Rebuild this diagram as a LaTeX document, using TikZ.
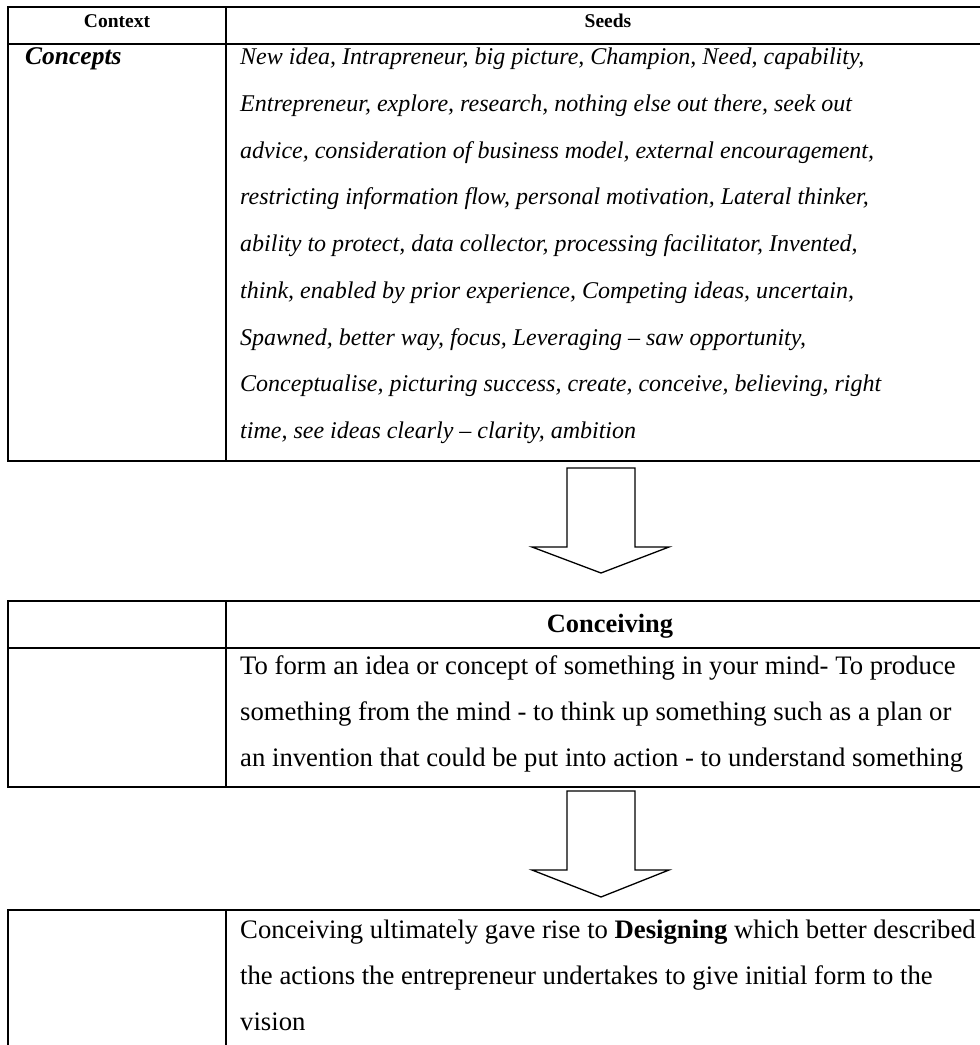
\documentclass[tikz,border=0pt]{standalone}
\usepackage{fontspec}
\setmainfont{Liberation Serif}
\begin{document}
\begin{tikzpicture}[x=1pt,y=-1pt,
  rule/.style={line width=1.8pt},
  blockarrow/.style={line width=1.3pt, line join=miter, fill=white},
  hdr/.style={font=\fontsize{19.5}{20}\selectfont\bfseries, anchor=base, inner sep=0pt},
  ctx/.style={font=\fontsize{25.5}{26}\selectfont\bfseries\itshape, anchor=base west, inner sep=0pt},
  seed/.style={font=\fontsize{24}{25}\selectfont\itshape, anchor=base west, inner sep=0pt},
  title/.style={font=\fontsize{26.4}{27}\selectfont\bfseries, anchor=base, inner sep=0pt},
  body/.style={font=\fontsize{26.7}{27}\selectfont, anchor=base west, inner sep=0pt},
]
\useasboundingbox (0,0) rectangle (980,1045);
\clip (0,0) rectangle (980,1045);

% Table of seeds
\draw[rule] (990,7) -| (8,461) -- (990,461);
\draw[rule] (8,44) -- (990,44);
\draw[rule] (226,7) -- (226,461);
\node[hdr] (hctx) at (117,27) {Context};
\node[hdr] (hseeds) at (608,27) {Seeds};
\node[ctx] (concepts) at (25,64.5) {Concepts};
\node[seed] (s1) at (240,64.5) {New idea, Intrapreneur, big picture, Champion, Need, capability,};
\node[seed] (s2) at (240,111.2) {Entrepreneur, explore, research, nothing else out there, seek out};
\node[seed] (s3) at (240,158) {advice, consideration of business model, external encouragement,};
\node[seed] (s4) at (240,204.8) {restricting information flow, personal motivation, Lateral thinker,};
\node[seed] (s5) at (240,251.5) {ability to protect, data collector, processing facilitator, Invented,};
\node[seed] (s6) at (240,298.2) {think, enabled by prior experience, Competing ideas, uncertain,};
\node[seed] (s7) at (240,345) {Spawned, better way, focus, Leveraging -- saw opportunity,};
\node[seed] (s8) at (240,391.8) {Conceptualise, picturing success, create, conceive, believing, right};
\node[seed] (s9) at (240,438.5) {time, see ideas clearly -- clarity, ambition};

% First block arrow
\draw[blockarrow] (567,468) -- (635,468) -- (635,547) -- (669,547) -- (601,573)
  -- (532,547) -- (567,547) -- cycle;

% Table of conceiving
\draw[rule] (990,601) -| (8,787) -- (990,787);
\draw[rule] (8,648) -- (990,648);
\draw[rule] (226,601) -- (226,787);
\node[title] (hconc) at (610,632) {Conceiving};
\node[body] (c1) at (240,674) {To form an idea or concept of something in your mind- To produce};
\node[body] (c2) at (240,720) {something from the mind - to think up something such as a plan or};
\node[body] (c3) at (240,766) {an invention that could be put into action - to understand something};

% Second block arrow
\draw[blockarrow] (567,791) -- (635,791) -- (635,870) -- (669,870) -- (601,897)
  -- (532,870) -- (567,870) -- cycle;

% Table of designing
\draw[rule] (990,910) -| (8,1060);
\draw[rule] (226,910) -- (226,1060);
\node[body] (d1) at (240,938) {Conceiving ultimately gave rise to \textbf{Designing} which better described};
\node[body] (d2) at (240,984) {the actions the entrepreneur undertakes to give initial form to the};
\node[body] (d3) at (240,1030) {vision};
\end{tikzpicture}
\end{document}
